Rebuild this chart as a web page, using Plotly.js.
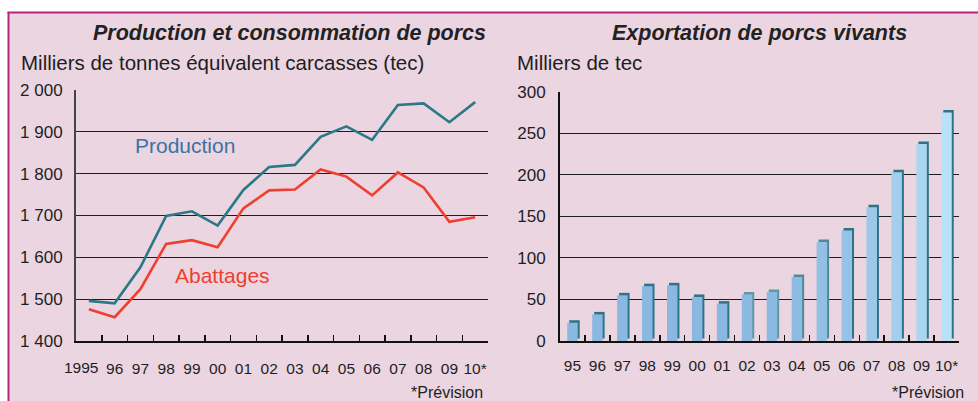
<!DOCTYPE html>
<html><head><meta charset="utf-8">
<script src="https://cdn.plot.ly/plotly-3.0.1.min.js"></script>
<style>html,body{margin:0;padding:0;background:#fff}</style>
</head><body>
<div id="chart" style="width:978px;height:401px"></div>
<script>
// ---- data ----
const lineYears = ['1995','96','97','98','99','00','01','02','03','04','05','06','07','08','09','10*'];
const production = [1496,1490,1576,1699,1710,1676,1761,1816,1821,1888,1913,1881,1964,1968,1923,1971];
const abattages  = [1476,1457,1524,1632,1641,1624,1717,1760,1762,1810,1793,1748,1803,1767,1685,1696];
const barYears = ['95','96','97','98','99','00','01','02','03','04','05','06','07','08','09','10*'];
const exportations = [22,32,55,66,67,53,45,56,59,77,119,133,161,203,237,275];
const leftTickVals = [1400,1500,1600,1700,1800,1900,2000];
const leftTickText = ['1 400','1 500','1 600','1 700','1 800','1 900','2 000'];
const rightTickVals = [0,50,100,150,200,250,300];

// ---- styles ----
const FONT = '"Liberation Sans", Arial, sans-serif';
const W = 978, H = 401;
const px = v => v / W;
const py = v => (H - v) / H;
const barColors = ['#8bb8e0','#8bb8e0','#8bb8e0','#8bb8e0','#8bb8e0','#8bb8e0','#8bb8e0','#8cb9e0','#8cb9e0','#8dbae1',
                   '#93bfe4','#96c2e6','#9cc8e9','#a3ceed','#abd6f1','#b7e1f6'];
const capColors = ['#2e7487','#2e7487','#2e7487','#2e7487','#2e7487','#2e7487','#2e7487','#5e97a6','#5e97a6','#4f8a9b',
                   '#4f8a9b','#2e7487','#2e7487','#2e7487','#2e7487','#2e7487'];

const traces = [
  {x: lineYears, y: production, type:'scatter', mode:'lines', xaxis:'x', yaxis:'y',
   line:{color:'#2b7886', width:2.6}, hoverinfo:'skip'},
  {x: lineYears, y: abattages, type:'scatter', mode:'lines', xaxis:'x', yaxis:'y',
   line:{color:'#ee3f2f', width:2.6}, hoverinfo:'skip'},
  // dark back (3D side + cap)
  {x: barYears, y: exportations, base: 3, type:'bar', xaxis:'x2', yaxis:'y2',
   width: 0.42, offset: -0.13, marker:{color: capColors, line:{width:0}}, hoverinfo:'skip'},
  // light front face
  {x: barYears, y: exportations, type:'bar', xaxis:'x2', yaxis:'y2',
   width: 0.42, offset: -0.21, marker:{color: barColors, line:{width:0}}, hoverinfo:'skip'}
];

const yFont = {family: FONT, size: 17, color:'#1e1e1e'};
const xFont = {family: FONT, size: 15.5, color:'#1e1e1e'};
const layout = {
  width: W, height: H,
  margin: {l:0, r:0, t:0, b:0},
  paper_bgcolor: '#ebd5e1', plot_bgcolor: 'rgba(0,0,0,0)',
  showlegend: false, barmode: 'overlay',
  font: {family: FONT, color:'#1e1e1e'},
  xaxis: {domain:[px(76), px(488)], type:'category', range:[-0.5, lineYears.length - 0.5],
          tickmode:'array', tickvals: lineYears, ticktext: lineYears.map((t,i) => i === 0 ? '' : t),
          tickson:'boundaries', tickangle: 0,
          ticks:'inside', ticklen:6, tickwidth:1.5, tickcolor:'#111',
          showline:true, linecolor:'#111', linewidth:2, showgrid:false,
          tickfont: xFont, ticklabelstandoff: 12, fixedrange:true},
  yaxis: {domain:[py(341), py(90)], range:[1400,2000], tickvals: leftTickVals, ticktext: leftTickText,
          showgrid:true, gridcolor:'#1e1e1e', gridwidth:1.2, zeroline:false,
          showline:true, linecolor:'#444', linewidth:2, ticks:'',
          tickfont: yFont, ticklabelstandoff: 8, fixedrange:true},
  xaxis2: {domain:[px(560), px(959)], type:'category', tickson:'boundaries', anchor:'y2', tickangle: 0,
          ticks:'inside', ticklen:6, tickwidth:1.5, tickcolor:'#111',
          showline:true, linecolor:'#111', linewidth:2, showgrid:false,
          tickfont: xFont, ticklabelstandoff: 9, fixedrange:true},
  yaxis2: {domain:[py(341), py(91.7)], range:[0,300], tickvals: rightTickVals, anchor:'x2',
          showgrid:true, gridcolor:'#1e1e1e', gridwidth:1.2, zeroline:false,
          showline:true, linecolor:'#111', linewidth:2, ticks:'',
          tickfont: yFont, ticklabelstandoff: 9, fixedrange:true},
  shapes: [
    {type:'rect', xref:'paper', yref:'paper', x0:0, x1:1, y0:py(12), y1:1, fillcolor:'#ffffff', line:{width:0}, layer:'below'},
    {type:'rect', xref:'paper', yref:'paper', x0:0, x1:px(8), y0:0, y1:1, fillcolor:'#ffffff', line:{width:0}, layer:'below'},
    {type:'line', xref:'paper', yref:'paper', x0:px(7.5), x1:1, y0:py(12.5), y1:py(12.5), line:{color:'#b8237f', width:2}},
    {type:'line', xref:'paper', yref:'paper', x0:px(8.5), x1:px(8.5), y0:0, y1:py(12), line:{color:'#b8237f', width:2}}
  ],
  annotations: [
    // first year label (category index 0), nudged left as in the original so it does not touch "96"
    {text: lineYears[0], xref:'x', yref:'paper', x: lineYears.indexOf(lineYears[0]), xshift:-8,
     y:py(367), xanchor:'center', yanchor:'middle', showarrow:false, font: xFont},
    {text:'<b><i>Production et consommation de porcs</i></b>', xref:'paper', yref:'paper',
     x:px(289), y:py(33), xanchor:'center', yanchor:'middle', showarrow:false,
     font:{family:FONT, size:21.5, color:'#222'}},
    {text:'<b><i>Exportation de porcs vivants</i></b>', xref:'paper', yref:'paper',
     x:px(759), y:py(33), xanchor:'center', yanchor:'middle', showarrow:false,
     font:{family:FONT, size:21.5, color:'#222'}},
    {text:'Milliers de tonnes équivalent carcasses (tec)', xref:'paper', yref:'paper',
     x:px(19), y:py(63), xanchor:'left', yanchor:'middle', showarrow:false,
     font:{family:FONT, size:20.5, color:'#1e1e1e'}},
    {text:'Milliers de tec', xref:'paper', yref:'paper',
     x:px(515), y:py(63), xanchor:'left', yanchor:'middle', showarrow:false,
     font:{family:FONT, size:20.5, color:'#1e1e1e'}},
    {text:'Production', xref:'paper', yref:'paper',
     x:px(133), y:py(145), xanchor:'left', yanchor:'middle', showarrow:false,
     font:{family:FONT, size:21, color:'#3a72a0'}},
    {text:'Abattages', xref:'paper', yref:'paper',
     x:px(173), y:py(275), xanchor:'left', yanchor:'middle', showarrow:false,
     font:{family:FONT, size:21, color:'#ee3f2f'}},
    {text:'*Prévision', xref:'paper', yref:'paper',
     x:px(485), y:py(392), xanchor:'right', yanchor:'middle', showarrow:false,
     font:{family:FONT, size:16, color:'#1e1e1e'}},
    {text:'*Prévision', xref:'paper', yref:'paper',
     x:px(966), y:py(392), xanchor:'right', yanchor:'middle', showarrow:false,
     font:{family:FONT, size:16, color:'#1e1e1e'}}
  ]
};

Plotly.newPlot('chart', traces, layout, {staticPlot:true, displayModeBar:false});
</script>
</body></html>
